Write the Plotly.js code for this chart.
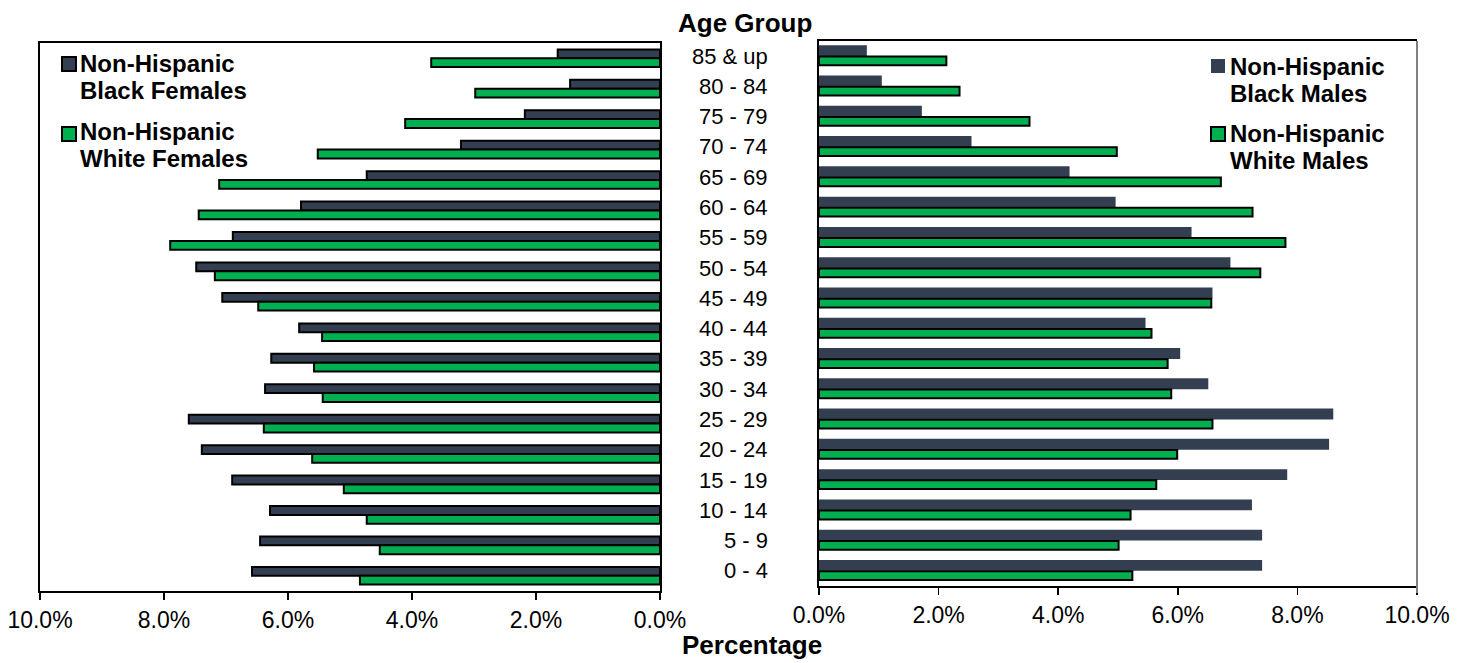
<!DOCTYPE html>
<html>
<head>
<meta charset="utf-8">
<script src="https://cdn.plot.ly/plotly-3.0.1.min.js"></script>
<style>html,body{margin:0;padding:0;background:#fff;}#chart{width:1464px;height:663px;}</style>
</head>
<body>
<div id="chart"></div>
<script>
// ---- data (bottom to top) ----
const ageGroups = ["0 - 4","5 - 9","10 - 14","15 - 19","20 - 24","25 - 29","30 - 34","35 - 39","40 - 44","45 - 49","50 - 54","55 - 59","60 - 64","65 - 69","70 - 74","75 - 79","80 - 84","85 & up"];
const blackFemales = [6.58,6.45,6.29,6.90,7.39,7.60,6.37,6.27,5.82,7.06,7.48,6.89,5.79,4.73,3.21,2.18,1.45,1.65];
const whiteFemales = [4.84,4.52,4.73,5.10,5.61,6.39,5.44,5.58,5.45,6.48,7.18,7.90,7.44,7.11,5.52,4.11,2.98,3.69];
const blackMales   = [7.41,7.41,7.24,7.83,8.53,8.60,6.51,6.04,5.46,6.58,6.88,6.23,4.96,4.19,2.55,1.72,1.05,0.80];
const whiteMales   = [5.24,5.01,5.21,5.64,5.99,6.58,5.89,5.83,5.56,6.56,7.38,7.80,7.25,6.72,4.98,3.52,2.35,2.13];
const tickVals   = [0,2,4,6,8,10];
const tickLabels = ["0.0%","2.0%","4.0%","6.0%","8.0%","10.0%"];
const femaleNames = ["Non-Hispanic<br>Black Females","Non-Hispanic<br>White Females"];
const maleNames   = ["Non-Hispanic<br>Black Males","Non-Hispanic<br>White Males"];
const yTitle = "Age Group";
const xTitle = "Percentage";

// ---- style ----
const W = 1464, H = 663;
const px = x => x / W;
const py = y => 1 - y / H;
const DARK = "#333F50", GREEN = "#00B050";
const FONT = "Liberation Sans, Arial, sans-serif";
const outline = {color:"#000", width:2};

const traces = [
  {type:"bar", orientation:"h", name:femaleNames[0], y:ageGroups, x:blackFemales, xaxis:"x", yaxis:"y",
   offset:0, width:0.29, marker:{color:DARK, line:outline}, showlegend:false, hoverinfo:"x+y"},
  {type:"bar", orientation:"h", name:femaleNames[1], y:ageGroups, x:whiteFemales, xaxis:"x", yaxis:"y",
   offset:-0.29, width:0.29, marker:{color:GREEN, line:outline}, showlegend:false, hoverinfo:"x+y"},
  {type:"bar", orientation:"h", name:maleNames[0], y:ageGroups, x:blackMales, xaxis:"x2", yaxis:"y2",
   offset:0, width:0.36, marker:{color:DARK, line:{width:0}}, showlegend:false, hoverinfo:"x+y"},
  {type:"bar", orientation:"h", name:maleNames[1], y:ageGroups, x:whiteMales, xaxis:"x2", yaxis:"y2",
   offset:-0.3, width:0.29, marker:{color:GREEN, line:outline}, showlegend:false, hoverinfo:"x+y"}
];

const axisX = {
  tickmode:"array", tickvals:tickVals, ticktext:tickLabels, showgrid:false, zeroline:false,
  showline:true, mirror:true, linecolor:"#000", linewidth:2,
  ticks:"outside", ticklen:7, tickwidth:1.5, tickcolor:"#000",
  tickfont:{family:FONT, size:23, color:"#000"}, fixedrange:true
};
const axisY = {
  type:"category", categoryarray:ageGroups, categoryorder:"array", showticklabels:false,
  ticks:"", showgrid:false, zeroline:false, showline:true, linecolor:"#000", linewidth:2, fixedrange:true
};

const annotations = [];
// category labels
ageGroups.forEach(g => annotations.push({
  xref:"paper", yref:"y2", x:px(770), y:g, text:g, showarrow:false, xanchor:"right", yanchor:"middle",
  font:{family:FONT, size:22, color:"#000"}
}));
annotations.push({xref:"paper", yref:"paper", x:px(745), y:py(23), text:yTitle, showarrow:false,
  xanchor:"center", yanchor:"middle", font:{family:FONT, size:26, color:"#000", weight:700}});
annotations.push({xref:"paper", yref:"paper", x:px(752), y:py(645), text:xTitle, showarrow:false,
  xanchor:"center", yanchor:"middle", font:{family:FONT, size:26, color:"#000", weight:700}});

const shapes = [
  // grey right border of male panel
  {type:"line", xref:"x2 domain", yref:"paper", x0:1, x1:1, y0:py(593), y1:py(41), line:{color:"#808080", width:2}}
];

// manual legends
function addLegend(names, colors, lines, sqX, textX, firstBaselines, squareTops) {
  names.forEach((nm, i) => {
    shapes.push({type:"rect", xref:"paper", yref:"paper",
      x0:px(sqX), x1:px(sqX+14), y0:py(squareTops[i]+14), y1:py(squareTops[i]),
      fillcolor:colors[i], line:lines[i]});
    nm.split("<br>").forEach((ln, j) => {
      annotations.push({xref:"paper", yref:"paper", x:px(textX), y:py(firstBaselines[i] + 27*j - 8.5),
        text:ln, showarrow:false, xanchor:"left", yanchor:"middle",
        font:{family:FONT, size:24, color:"#000", weight:700}});
    });
  });
}
addLegend(femaleNames, [DARK, GREEN], [{color:"#000", width:2},{color:"#000", width:2}], 62, 78, [72, 140], [57, 127]);
addLegend(maleNames, [DARK, GREEN], [{width:0},{color:"#000", width:2}], 1211, 1228, [75, 142], [59, 127]);

const layout = {
  width:W, height:H, autosize:false,
  margin:{l:0, r:0, t:0, b:0, pad:0},
  paper_bgcolor:"#fff", plot_bgcolor:"#fff",
  barmode:"overlay",
  showlegend:false,
  xaxis: Object.assign({}, axisX, {domain:[px(40), px(660)], range:[10,0], autorange:false, anchor:"y", ticklabelstandoff:0}),
  yaxis: Object.assign({}, axisY, {domain:[py(591), py(43)], anchor:"x", mirror:true}),
  xaxis2: Object.assign({}, axisX, {domain:[px(819), px(1417)], range:[0,10], autorange:false, anchor:"y2", ticklabelstandoff:0}),
  yaxis2: Object.assign({}, axisY, {domain:[py(586), py(41)], anchor:"x2", mirror:false}),
  annotations:annotations,
  shapes:shapes
};

Plotly.newPlot("chart", traces, layout, {staticPlot:true, displayModeBar:false});
</script>
</body>
</html>
